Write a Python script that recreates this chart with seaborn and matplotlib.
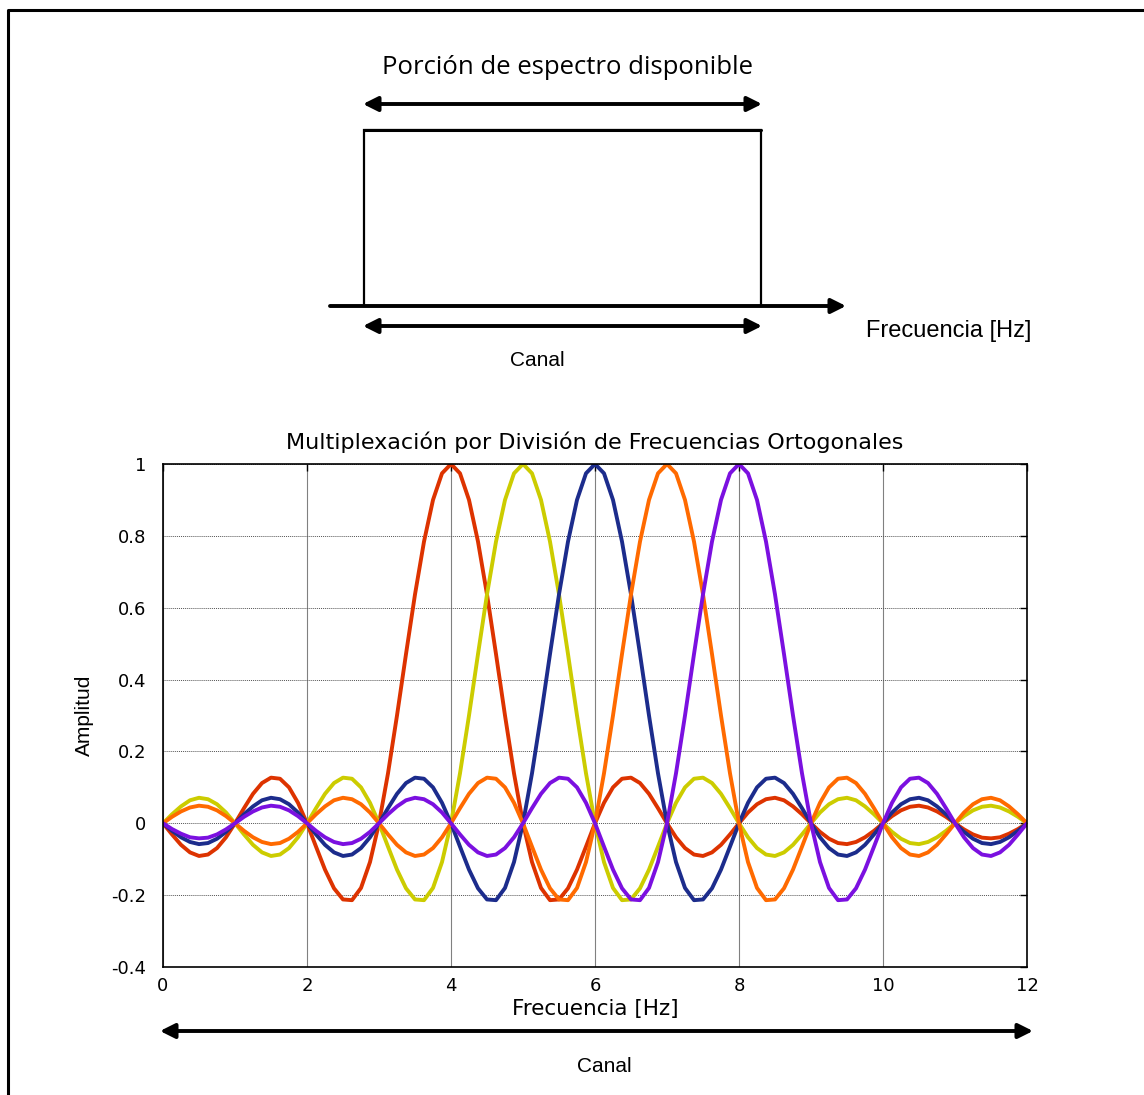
import numpy as np
import pandas as pd
import seaborn as sns
import matplotlib.pyplot as plt
from matplotlib import font_manager
from matplotlib.patches import Rectangle, FancyArrowPatch

# frequency axis, one sample every 1/8 Hz
frecuencia = np.arange(97) / 8.0

# sub-carrier amplitudes (one row = 1 Hz)
portadora_4 = [
    0, -0.031, -0.060, -0.081, -0.091, -0.087, -0.069, -0.039,
    0, 0.042, 0.082, 0.112, 0.127, 0.124, 0.100, 0.057,
    0, -0.065, -0.129, -0.181, -0.212, -0.214, -0.180, -0.108,
    0, 0.139, 0.300, 0.471, 0.637, 0.784, 0.900, 0.974,
    1.000, 0.974, 0.900, 0.784, 0.637, 0.471, 0.300, 0.139,
    0, -0.108, -0.180, -0.214, -0.212, -0.181, -0.129, -0.065,
    0, 0.057, 0.100, 0.124, 0.127, 0.112, 0.082, 0.042,
    0, -0.039, -0.069, -0.087, -0.091, -0.081, -0.060, -0.031,
    0, 0.030, 0.053, 0.067, 0.071, 0.064, 0.047, 0.025,
    0, -0.024, -0.043, -0.055, -0.058, -0.052, -0.039, -0.021,
    0, 0.020, 0.036, 0.046, 0.049, 0.044, 0.033, 0.018,
    0, -0.017, -0.031, -0.040, -0.042, -0.039, -0.029, -0.016,
    0,
]
portadora_5 = [
    0, 0.025, 0.047, 0.064, 0.071, 0.067, 0.053, 0.030,
    0, -0.031, -0.060, -0.081, -0.091, -0.087, -0.069, -0.039,
    0, 0.042, 0.082, 0.112, 0.127, 0.124, 0.100, 0.057,
    0, -0.065, -0.129, -0.181, -0.212, -0.214, -0.180, -0.108,
    0, 0.139, 0.300, 0.471, 0.637, 0.784, 0.900, 0.974,
    1.000, 0.974, 0.900, 0.784, 0.637, 0.471, 0.300, 0.139,
    0, -0.108, -0.180, -0.214, -0.212, -0.181, -0.129, -0.065,
    0, 0.057, 0.100, 0.124, 0.127, 0.112, 0.082, 0.042,
    0, -0.039, -0.069, -0.087, -0.091, -0.081, -0.060, -0.031,
    0, 0.030, 0.053, 0.067, 0.071, 0.064, 0.047, 0.025,
    0, -0.024, -0.043, -0.055, -0.058, -0.052, -0.039, -0.021,
    0, 0.020, 0.036, 0.046, 0.049, 0.044, 0.033, 0.018,
    0,
]
portadora_6 = [
    0, -0.021, -0.039, -0.052, -0.058, -0.055, -0.043, -0.024,
    0, 0.025, 0.047, 0.064, 0.071, 0.067, 0.053, 0.030,
    0, -0.031, -0.060, -0.081, -0.091, -0.087, -0.069, -0.039,
    0, 0.042, 0.082, 0.112, 0.127, 0.124, 0.100, 0.057,
    0, -0.065, -0.129, -0.181, -0.212, -0.214, -0.180, -0.108,
    0, 0.139, 0.300, 0.471, 0.637, 0.784, 0.900, 0.974,
    1.000, 0.974, 0.900, 0.784, 0.637, 0.471, 0.300, 0.139,
    0, -0.108, -0.180, -0.214, -0.212, -0.181, -0.129, -0.065,
    0, 0.057, 0.100, 0.124, 0.127, 0.112, 0.082, 0.042,
    0, -0.039, -0.069, -0.087, -0.091, -0.081, -0.060, -0.031,
    0, 0.030, 0.053, 0.067, 0.071, 0.064, 0.047, 0.025,
    0, -0.024, -0.043, -0.055, -0.058, -0.052, -0.039, -0.021,
    0,
]
portadora_7 = [
    0, 0.018, 0.033, 0.044, 0.049, 0.046, 0.036, 0.020,
    0, -0.021, -0.039, -0.052, -0.058, -0.055, -0.043, -0.024,
    0, 0.025, 0.047, 0.064, 0.071, 0.067, 0.053, 0.030,
    0, -0.031, -0.060, -0.081, -0.091, -0.087, -0.069, -0.039,
    0, 0.042, 0.082, 0.112, 0.127, 0.124, 0.100, 0.057,
    0, -0.065, -0.129, -0.181, -0.212, -0.214, -0.180, -0.108,
    0, 0.139, 0.300, 0.471, 0.637, 0.784, 0.900, 0.974,
    1.000, 0.974, 0.900, 0.784, 0.637, 0.471, 0.300, 0.139,
    0, -0.108, -0.180, -0.214, -0.212, -0.181, -0.129, -0.065,
    0, 0.057, 0.100, 0.124, 0.127, 0.112, 0.082, 0.042,
    0, -0.039, -0.069, -0.087, -0.091, -0.081, -0.060, -0.031,
    0, 0.030, 0.053, 0.067, 0.071, 0.064, 0.047, 0.025,
    0,
]
portadora_8 = [
    0, -0.016, -0.029, -0.039, -0.042, -0.040, -0.031, -0.017,
    0, 0.018, 0.033, 0.044, 0.049, 0.046, 0.036, 0.020,
    0, -0.021, -0.039, -0.052, -0.058, -0.055, -0.043, -0.024,
    0, 0.025, 0.047, 0.064, 0.071, 0.067, 0.053, 0.030,
    0, -0.031, -0.060, -0.081, -0.091, -0.087, -0.069, -0.039,
    0, 0.042, 0.082, 0.112, 0.127, 0.124, 0.100, 0.057,
    0, -0.065, -0.129, -0.181, -0.212, -0.214, -0.180, -0.108,
    0, 0.139, 0.300, 0.471, 0.637, 0.784, 0.900, 0.974,
    1.000, 0.974, 0.900, 0.784, 0.637, 0.471, 0.300, 0.139,
    0, -0.108, -0.180, -0.214, -0.212, -0.181, -0.129, -0.065,
    0, 0.057, 0.100, 0.124, 0.127, 0.112, 0.082, 0.042,
    0, -0.039, -0.069, -0.087, -0.091, -0.081, -0.060, -0.031,
    0,
]

portadoras = ["4 Hz", "5 Hz", "6 Hz", "7 Hz", "8 Hz"]
colores = ["#DD3300", "#CCCC00", "#1C2C8C", "#FF6A00", "#7B10E0"]
x_ticks = [0, 2, 4, 6, 8, 10, 12]
y_ticks = [-0.4, -0.2, 0, 0.2, 0.4, 0.6, 0.8, 1]
y_labels = ["-0.4", "-0.2", "0", "0.2", "0.4", "0.6", "0.8", "1"]


def build_frame():
    rows = []
    for name, vals in zip(portadoras, [portadora_4, portadora_5, portadora_6, portadora_7, portadora_8]):
        for f, a in zip(frecuencia, vals):
            rows.append({"portadora": name, "frecuencia": f, "amplitud": a})
    return pd.DataFrame(rows)


def main():
    sns.set_style("white")
    names = {f.name for f in font_manager.fontManager.ttflist}
    narrow = "Liberation Sans Narrow" if "Liberation Sans Narrow" in names else "Liberation Sans"
    plt.rcParams["font.family"] = ["DejaVu Sans"]
    plt.rcParams["text.color"] = "black"
    plt.rcParams["axes.labelcolor"] = "black"
    plt.rcParams["xtick.color"] = "black"
    plt.rcParams["ytick.color"] = "black"

    data = build_frame()

    fig = plt.figure(figsize=(11.44, 10.95), dpi=100)

    # overlay in pixel coordinates for the sketch and the frame
    over = fig.add_axes([0, 0, 1, 1], zorder=0)
    over.set_xlim(0, 1144)
    over.set_ylim(1095, 0)
    over.axis("off")

    # outer frame (only top and left visible)
    over.plot([8, 8, 1144], [1095, 10, 10], color="black", lw=2.2, solid_capstyle="butt")

    # available spectrum sketch
    over.add_patch(Rectangle((364, 130), 397, 176, fill=False, edgecolor="black", lw=1.6))
    over.plot([364, 761], [130, 130], color="black", lw=2.2)

    def arrow(x0, x1, y, style="<|-|>", lw=2.8, ms=22):
        over.add_patch(FancyArrowPatch((x0, y), (x1, y), arrowstyle=style,
                                       mutation_scale=ms, color="black", lw=lw,
                                       shrinkA=0, shrinkB=0))

    arrow(363, 762, 104)
    arrow(330, 846, 306, style="-|>")
    arrow(363, 762, 326)
    arrow(160, 1033, 1031)

    over.text(567, 67, "Porción de espectro disponible", ha="center", va="center",
              fontsize=18.5, family=["Open Sans", "DejaVu Sans"])
    over.text(866, 331, "Frecuencia [Hz]", ha="left", va="center", fontsize=17,
              family=[narrow, "DejaVu Sans"])
    over.text(537, 360, "Canal", ha="center", va="center", fontsize=15,
              family=[narrow, "DejaVu Sans"])
    over.text(604, 1066, "Canal", ha="center", va="center", fontsize=15,
              family=[narrow, "DejaVu Sans"])

    # OFDM subcarriers
    ax = fig.add_axes([163 / 1144, 1 - 967 / 1095, 864 / 1144, 503 / 1095], zorder=1)
    sns.lineplot(data=data, x="frecuencia", y="amplitud", hue="portadora",
                 palette=colores, hue_order=portadoras, legend=False,
                 linewidth=2.8, ax=ax)

    ax.set_xlim(0, 12)
    ax.set_ylim(-0.4, 1)
    ax.set_xticks(x_ticks)
    ax.set_yticks(y_ticks)
    ax.set_yticklabels(y_labels)
    ax.tick_params(direction="in", length=5, width=1, top=True, right=True,
                   labelsize=13, color="black", labelcolor="black")
    ax.tick_params(axis="y", pad=12)
    ax.tick_params(axis="x", pad=7)
    for sp in ax.spines.values():
        sp.set_color("black")
        sp.set_linewidth(1.2)
    ax.xaxis.grid(True, color="#808080", lw=0.8, ls="-")
    ax.yaxis.grid(True, color="#555555", lw=0.7, ls=(0, (1, 1)))
    ax.set_axisbelow(True)

    ax.set_title("Multiplexación por División de Frecuencias Ortogonales", fontsize=16, pad=11)
    ax.set_xlabel("Frecuencia [Hz]", fontsize=15.5)
    ax.xaxis.set_label_coords(0.5, -0.064)
    ax.set_ylabel("Amplitud", fontsize=15, family=[narrow, "DejaVu Sans"])
    ax.yaxis.set_label_coords(-0.080, 0.5)

    plt.savefig("out.png", dpi=100, facecolor="white")


if __name__ == '__main__':
    main()
